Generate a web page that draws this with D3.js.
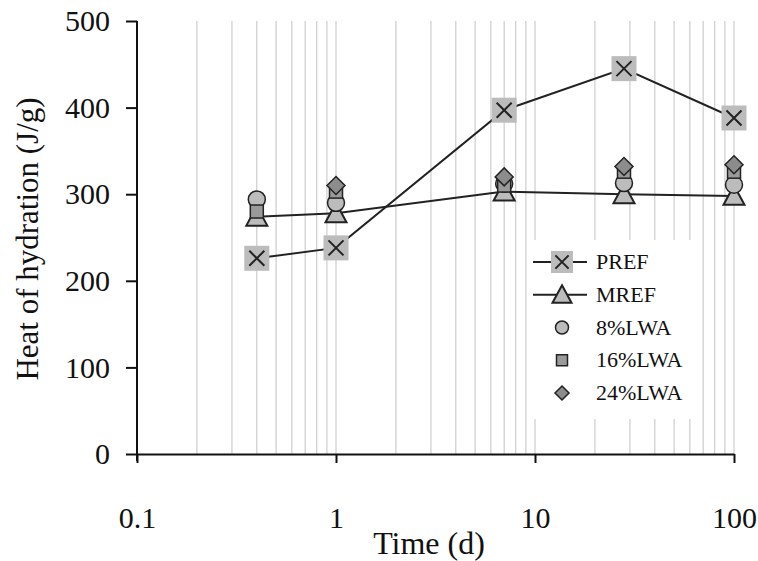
<!DOCTYPE html>
<html>
<head>
<meta charset="utf-8">
<script src="https://cdn.jsdelivr.net/npm/d3@7"></script>
<style>
  body { margin: 0; background: #fff; }
  text { font-family: "Liberation Serif", "DejaVu Serif", serif; }
</style>
</head>
<body>
<div id="chart"></div>
<script>
var times = [0.4, 1, 7, 28, 100];
var pref = [226, 238, 397, 445, 388];
var mref = [274, 278, 303, 300, 298];
var lwa8 = [294, 290, 312, 313, 311];
var lwa16 = [280, 303, 310, 326, 326];
var lwa24 = [null, 310, 320, 332, 334];
var xTicks = [0.1, 1, 10, 100];
var yTicks = [0, 100, 200, 300, 400, 500];
var legendLabels = ["PREF", "MREF", "8%LWA", "16%LWA", "24%LWA"];

var width = 758, height = 561,
    serif = "'Liberation Serif', 'DejaVu Serif', serif";

var svg = d3.select("#chart").append("svg")
    .attr("width", width)
    .attr("height", height);

var x = d3.scaleLog().domain([0.1, 100]).range([137, 734]),
    y = d3.scaleLinear().domain([0, 500]).range([454, 21]);

// vertical gridlines at 2..10 of every decade
var grid = [];
[0.1, 1, 10].forEach(function (d) {
    for (var i = 2; i <= 10; i++) grid.push(d * i);
});

svg.append("g").selectAll("line")
    .data(grid)
    .enter().append("line")
      .attr("x1", function (d) { return x(d); })
      .attr("x2", function (d) { return x(d); })
      .attr("y1", y(500))
      .attr("y2", y(0))
      .style("stroke", "#c8c8c8")
      .style("stroke-width", 1.1);

// axes
var xAxis = d3.axisBottom(x).tickValues(xTicks).tickFormat(d3.format("")).tickSize(9).tickSizeOuter(0);
var yAxis = d3.axisLeft(y).tickValues(yTicks).tickSize(11).tickSizeOuter(0);

var gx = svg.append("g")
    .attr("transform", "translate(0," + y(0) + ")")
    .call(xAxis);
gx.attr("font-family", serif);
gx.select(".domain").style("stroke", "#111").style("stroke-width", 2);
gx.selectAll(".tick line").style("stroke", "#111").style("stroke-width", 2);
gx.selectAll(".tick text")
    .style("font-family", serif)
    .style("font-size", "30px")
    .style("fill", "#111")
    .attr("dy", null)
    .attr("y", 74);

var gy = svg.append("g")
    .attr("transform", "translate(" + x(0.1) + ",0)")
    .call(yAxis);
gy.attr("font-family", serif);
gy.select(".domain")
    .attr("d", "M0," + y(500) + "V" + (y(0) + 7))
    .style("stroke", "#111").style("stroke-width", 2);
gy.selectAll(".tick line").style("stroke", "#111").style("stroke-width", 2);
gy.selectAll(".tick text")
    .style("font-family", serif)
    .style("font-size", "30px")
    .style("fill", "#111")
    .attr("x", -27);

svg.append("text")
    .attr("x", 429)
    .attr("y", 554)
    .attr("text-anchor", "middle")
    .style("font-family", serif)
    .style("font-size", "32px")
    .style("fill", "#111")
    .text("Time (d)");

svg.append("text")
    .attr("transform", "translate(38," + 239 + ") rotate(-90)")
    .attr("text-anchor", "middle")
    .style("font-family", serif)
    .style("font-size", "31px")
    .style("fill", "#111")
    .text("Heat of hydration (J/g)");

// markers
function xSquare(g, size) {
    var h = size / 2, c = size * 0.3;
    g.append("rect").attr("x", -h).attr("y", -h).attr("width", size).attr("height", size)
        .style("fill", "#bcbcbc");
    g.append("path").attr("d", "M" + (-c) + "," + (-c) + "L" + c + "," + c + "M" + c + "," + (-c) + "L" + (-c) + "," + c)
        .style("stroke", "#222").style("stroke-width", 2).style("fill", "none");
}
function triangle(g, size) {
    var h = size / 2;
    g.append("path").attr("d", "M0," + (-h) + "L" + h + "," + (h * 0.85) + "L" + (-h) + "," + (h * 0.85) + "Z")
        .style("fill", "#bcbcbc").style("stroke", "#222").style("stroke-width", 2);
}
function circle(g, size) {
    g.append("circle").attr("r", size / 2)
        .style("fill", "#bcbcbc").style("stroke", "#222").style("stroke-width", 1.5);
}
function square(g, size) {
    var h = size / 2;
    g.append("rect").attr("x", -h).attr("y", -h).attr("width", size).attr("height", size)
        .style("fill", "#9a9a9a").style("stroke", "#222").style("stroke-width", 1.5);
}
function diamond(g, size) {
    var h = size / 2;
    g.append("path").attr("d", "M0," + (-h) + "L" + h + ",0L0," + h + "L" + (-h) + ",0Z")
        .style("fill", "#8c8c8c").style("stroke", "#222").style("stroke-width", 1.5);
}

var series = [
    { values: pref, line: true, mark: xSquare, size: 25, legendSize: 22 },
    { values: mref, line: true, mark: triangle, size: 21, legendSize: 19 },
    { values: lwa8, line: false, mark: circle, size: 17, legendSize: 13 },
    { values: lwa16, line: false, mark: square, size: 13, legendSize: 11 },
    { values: lwa24, line: false, mark: diamond, size: 18, legendSize: 14 }
];

var valueline = d3.line()
    .defined(function (d) { return d != null; })
    .x(function (d, i) { return x(times[i]); })
    .y(function (d) { return y(d); });

series.forEach(function (s) {
    if (s.line) {
        svg.append("path")
            .datum(s.values)
            .attr("d", valueline)
            .style("fill", "none")
            .style("stroke", "#222")
            .style("stroke-width", 2);
    }
});

series.forEach(function (s) {
    s.values.forEach(function (v, i) {
        if (v == null) return;
        var g = svg.append("g").attr("transform", "translate(" + x(times[i]) + "," + y(v) + ")");
        s.mark(g, s.size);
    });
});

// legend
var legend = svg.append("g").attr("transform", "translate(528,240)");
legend.append("rect")
    .attr("width", 166)
    .attr("height", 179)
    .style("fill", "#fff");

var legendY = d3.scalePoint().domain(legendLabels).range([22, 153]);

series.forEach(function (s, i) {
    var ly = legendY(legendLabels[i]);
    if (s.line) {
        legend.append("line")
            .attr("x1", 5).attr("x2", 59)
            .attr("y1", ly).attr("y2", ly)
            .style("stroke", "#222").style("stroke-width", 2);
    }
    var g = legend.append("g").attr("transform", "translate(34," + ly + ")");
    s.mark(g, s.legendSize);
    legend.append("text")
        .attr("x", 68)
        .attr("y", ly + 7)
        .style("font-family", serif)
        .style("font-size", "22px")
        .style("fill", "#111")
        .text(legendLabels[i]);
});
</script>
</body>
</html>
